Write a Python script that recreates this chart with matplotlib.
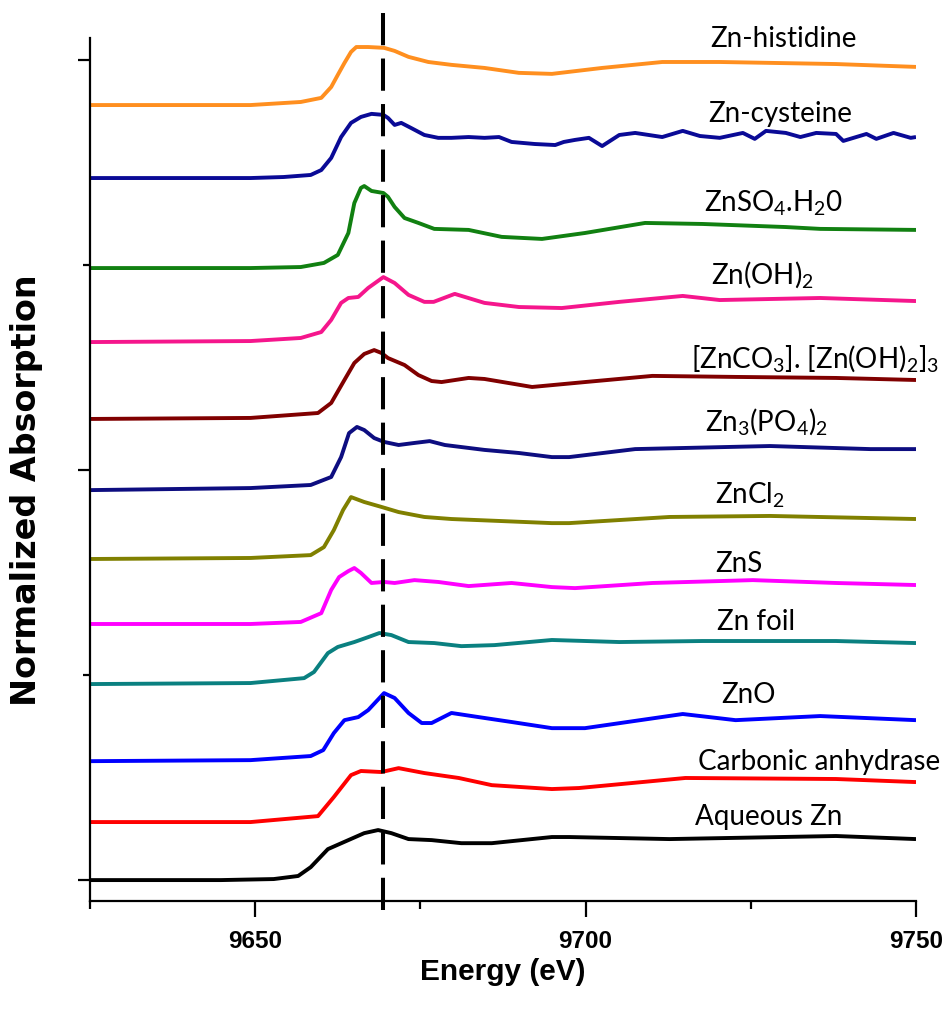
import matplotlib
matplotlib.use("Agg")
import matplotlib.pyplot as plt
from matplotlib import font_manager
from matplotlib.ticker import FixedLocator, NullFormatter

# ---------------- data (energy in eV, stacked normalized absorption) ----------------
histidine_E = [9625.0, 9649.3, 9656.9, 9660.0, 9661.5, 9662.5, 9663.5, 9664.5, 9665.3, 9667.1, 9669.5, 9671.1,
               9673.2, 9676.2, 9679.7, 9684.7, 9689.9, 9694.9, 9702.5, 9711.6, 9720.3, 9737.9, 9750.0]
histidine_A = [3.780, 3.780, 3.795, 3.815, 3.868, 3.927, 3.985, 4.039, 4.063, 4.063, 4.059, 4.044,
               4.015, 3.990, 3.976, 3.961, 3.937, 3.932, 3.961, 3.990, 3.990, 3.980, 3.966]

cysteine_E = [9625.0, 9649.3, 9654.3, 9658.4, 9660.0, 9661.5, 9663.0, 9664.5, 9666.0, 9667.6, 9669.4, 9670.1,
              9671.1, 9672.1, 9673.6, 9675.6, 9677.7, 9679.7, 9682.3, 9684.7, 9686.9, 9688.8, 9692.3, 9695.4,
              9696.7, 9698.4, 9700.5, 9702.5, 9705.1, 9707.5, 9711.6, 9714.7, 9717.3, 9720.3, 9723.8, 9725.6,
              9727.3, 9730.3, 9732.5, 9734.9, 9737.9, 9739.0, 9742.5, 9744.0, 9746.6, 9749.2, 9750.0]
cysteine_A = [3.424, 3.424, 3.429, 3.439, 3.463, 3.522, 3.624, 3.693, 3.722, 3.737, 3.732, 3.717,
              3.683, 3.693, 3.668, 3.634, 3.620, 3.620, 3.624, 3.620, 3.624, 3.600, 3.590, 3.585,
              3.600, 3.610, 3.620, 3.580, 3.634, 3.644, 3.624, 3.654, 3.629, 3.620, 3.644, 3.615,
              3.654, 3.644, 3.624, 3.644, 3.639, 3.605, 3.639, 3.615, 3.644, 3.620, 3.624]

znso4_E = [9625.0, 9649.3, 9656.9, 9660.4, 9662.5, 9664.1, 9665.0, 9666.0, 9666.5, 9667.6, 9669.4, 9670.1,
           9671.1, 9672.6, 9674.7, 9677.1, 9682.3, 9687.3, 9693.4, 9699.9, 9709.0, 9717.7, 9730.3, 9735.5, 9750.0]
znso4_A = [2.985, 2.985, 2.990, 3.010, 3.049, 3.156, 3.302, 3.376, 3.385, 3.361, 3.351, 3.332,
           3.283, 3.229, 3.205, 3.176, 3.171, 3.137, 3.127, 3.156, 3.205, 3.200, 3.185, 3.176, 3.171]

znoh2_E = [9625.0, 9649.3, 9656.9, 9660.0, 9661.5, 9663.0, 9664.1, 9665.6, 9667.1, 9669.4, 9671.1, 9673.2,
           9675.6, 9677.0, 9680.2, 9684.7, 9689.9, 9696.4, 9705.1, 9714.7, 9720.3, 9735.5, 9750.0]
znoh2_A = [2.624, 2.629, 2.644, 2.673, 2.732, 2.815, 2.839, 2.844, 2.888, 2.941, 2.912, 2.854,
           2.820, 2.820, 2.859, 2.815, 2.795, 2.790, 2.820, 2.849, 2.829, 2.839, 2.824]

znco3_E = [9625.0, 9649.3, 9659.5, 9661.5, 9663.5, 9665.0, 9666.5, 9668.0, 9669.1, 9670.1, 9672.6, 9674.7,
           9676.7, 9678.2, 9682.3, 9684.7, 9688.4, 9691.9, 9699.9, 9710.1, 9722.7, 9737.9, 9750.0]
znco3_A = [2.249, 2.254, 2.278, 2.327, 2.439, 2.522, 2.566, 2.585, 2.571, 2.546, 2.512, 2.463,
           2.434, 2.429, 2.449, 2.444, 2.424, 2.405, 2.429, 2.459, 2.454, 2.449, 2.439]

znpo4_E = [9625.0, 9649.3, 9658.4, 9661.5, 9663.0, 9664.2, 9665.4, 9666.5, 9668.0, 9669.5, 9671.7, 9674.1,
           9676.4, 9678.7, 9684.7, 9689.9, 9694.9, 9697.5, 9707.5, 9727.9, 9743.1, 9750.0]
znpo4_A = [1.902, 1.912, 1.927, 1.966, 2.063, 2.180, 2.210, 2.195, 2.156, 2.137, 2.122, 2.132,
           2.141, 2.122, 2.098, 2.083, 2.063, 2.063, 2.102, 2.117, 2.102, 2.102]

zncl2_E = [9625.0, 9649.3, 9658.4, 9660.4, 9661.9, 9663.3, 9664.5, 9666.5, 9669.1, 9671.7, 9675.6, 9679.7,
           9687.3, 9694.9, 9697.5, 9712.7, 9727.9, 9750.0]
zncl2_A = [1.566, 1.571, 1.585, 1.624, 1.707, 1.805, 1.868, 1.844, 1.820, 1.795, 1.771, 1.761,
           1.751, 1.741, 1.741, 1.771, 1.776, 1.761]

zns_E = [9625.0, 9649.3, 9656.9, 9660.0, 9661.5, 9662.7, 9664.1, 9665.0, 9666.0, 9667.6, 9669.5, 9671.1,
         9674.1, 9677.7, 9682.3, 9688.8, 9694.9, 9698.4, 9710.1, 9725.3, 9737.9, 9750.0]
zns_A = [1.249, 1.249, 1.259, 1.302, 1.415, 1.478, 1.507, 1.522, 1.498, 1.449, 1.454, 1.449,
         1.463, 1.454, 1.434, 1.449, 1.429, 1.424, 1.449, 1.463, 1.449, 1.439]

znfoil_E = [9625.0, 9649.3, 9657.4, 9658.9, 9661.0, 9662.5, 9665.0, 9667.1, 9668.8, 9670.6, 9673.2, 9677.1,
            9681.2, 9686.2, 9694.9, 9705.1, 9717.7, 9737.9, 9750.0]
znfoil_A = [0.956, 0.961, 0.985, 1.015, 1.107, 1.137, 1.161, 1.185, 1.205, 1.195, 1.161, 1.156,
            1.141, 1.146, 1.171, 1.161, 1.166, 1.166, 1.156]

zno_E = [9625.0, 9649.3, 9658.4, 9660.3, 9661.9, 9663.5, 9665.6, 9667.1, 9669.5, 9671.1, 9673.2, 9675.2,
         9676.7, 9679.7, 9683.8, 9688.8, 9694.9, 9699.9, 9714.7, 9722.7, 9735.5, 9750.0]
zno_A = [0.580, 0.585, 0.605, 0.634, 0.717, 0.780, 0.795, 0.829, 0.912, 0.888, 0.815, 0.766,
         0.766, 0.815, 0.795, 0.771, 0.741, 0.741, 0.810, 0.780, 0.800, 0.780]

carbonic_E = [9625.0, 9649.3, 9659.5, 9661.9, 9664.5, 9666.0, 9669.1, 9671.7, 9675.6, 9680.8, 9685.8, 9694.9,
              9699.0, 9715.1, 9737.9, 9750.0]
carbonic_A = [0.283, 0.283, 0.312, 0.405, 0.512, 0.532, 0.527, 0.546, 0.522, 0.498, 0.463, 0.444,
              0.449, 0.498, 0.493, 0.478]

aqueous_E = [9625.0, 9644.8, 9652.8, 9656.5, 9658.4, 9661.0, 9664.1, 9666.5, 9668.6, 9670.6, 9673.2, 9676.7,
             9681.2, 9685.8, 9694.9, 9697.5, 9712.7, 9737.9, 9750.0]
aqueous_A = [0.000, 0.000, 0.005, 0.020, 0.063, 0.151, 0.195, 0.229, 0.244, 0.229, 0.200, 0.195,
             0.180, 0.180, 0.210, 0.210, 0.200, 0.215, 0.200]

labels = ['Zn-histidine', 'Zn-cysteine', r'ZnSO$\mathregular{_4}$.H$\mathregular{_2}$0', r'Zn(OH)$\mathregular{_2}$',
          r'[ZnCO$\mathregular{_3}$]. [Zn(OH)$\mathregular{_2}$]$\mathregular{_3}$',
          r'Zn$\mathregular{_3}$(PO$\mathregular{_4}$)$\mathregular{_2}$', r'ZnCl$\mathregular{_2}$', 'ZnS',
          'Zn foil', 'ZnO', 'Carbonic anhydrase', 'Aqueous Zn']
label_E = [9730.0, 9729.4, 9728.5, 9726.8, 9734.7, 9727.3, 9724.9, 9723.2, 9725.8, 9724.7, 9735.3, 9727.7]
label_A = [4.063, 3.698, 3.259, 2.912, 2.502, 2.195, 1.839, 1.502, 1.220, 0.863, 0.537, 0.268]

edge_energy = 9669.4
x_major = [9650, 9700, 9750]
x_minor = [9625, 9675, 9725]
y_major = [0, 2, 4]
y_minor = [1, 3]

# ---------------- styling ----------------
names = {f.name for f in font_manager.fontManager.ttflist}
label_font = 'Lato' if 'Lato' in names else 'DejaVu Sans'

plt.rcParams['mathtext.fontset'] = 'custom'
plt.rcParams['mathtext.rm'] = label_font
plt.rcParams['mathtext.it'] = label_font
plt.rcParams['mathtext.bf'] = label_font

colors = ['#FF8F1F', '#0A0A96', '#118011', '#F5168C', '#800000', '#0D0D80',
          '#808000', '#FF00FF', '#0A8080', '#0000FF', '#FF0000', '#000000']
series = [(histidine_E, histidine_A), (cysteine_E, cysteine_A), (znso4_E, znso4_A), (znoh2_E, znoh2_A),
          (znco3_E, znco3_A), (znpo4_E, znpo4_A), (zncl2_E, zncl2_A), (zns_E, zns_A),
          (znfoil_E, znfoil_A), (zno_E, zno_A), (carbonic_E, carbonic_A), (aqueous_E, aqueous_A)]

fig = plt.figure(figsize=(9.45, 10.21), dpi=100)
ax = fig.add_axes([90 / 945, 1 - 901 / 1021, 826 / 945, 863 / 1021])

for (E, A), c in zip(series, colors):
    ax.plot(E, A, color=c, lw=2.8, solid_joinstyle='round', solid_capstyle='butt', zorder=2)

ax.plot([edge_energy, edge_energy], [-0.146, 4.234], color='black', lw=2.9,
        dashes=(8, 3.3), clip_on=False, zorder=5)

for t, e, a in zip(labels, label_E, label_A):
    ax.text(e, a, t, ha='center', va='baseline', fontsize=20, family=label_font, clip_on=False)

ax.set_xlim(9625, 9750)
ax.set_ylim(-0.102, 4.107)

for s in ['top', 'right']:
    ax.spines[s].set_visible(False)
for s in ['left', 'bottom']:
    ax.spines[s].set_linewidth(1.6)

ax.xaxis.set_major_locator(FixedLocator(x_major))
ax.xaxis.set_minor_locator(FixedLocator(x_minor))
ax.yaxis.set_major_locator(FixedLocator(y_major))
ax.yaxis.set_minor_locator(FixedLocator(y_minor))
ax.yaxis.set_major_formatter(NullFormatter())
ax.tick_params(axis='x', which='major', direction='out', length=11.5, width=1.6, pad=9.5)
ax.tick_params(axis='x', which='minor', direction='out', length=5.8, width=1.6)
ax.tick_params(axis='y', which='major', direction='out', length=9, width=1.6)
ax.tick_params(axis='y', which='minor', direction='out', length=5, width=1.6)
for lab in ax.get_xticklabels():
    lab.set_fontfamily('Liberation Sans')
    lab.set_fontweight('bold')
    lab.set_fontsize(17.5)

fig.text(503 / 945, 1 - 972 / 1021, 'Energy (eV)', ha='center', va='center',
         fontsize=21.5, fontweight='bold', family='Liberation Sans')
fig.text(27 / 945, 1 - 490 / 1021, 'Normalized Absorption', ha='center', va='center', rotation=90,
         fontsize=24, fontweight='bold', family='DejaVu Sans')

fig.savefig('out.png', dpi=100)
